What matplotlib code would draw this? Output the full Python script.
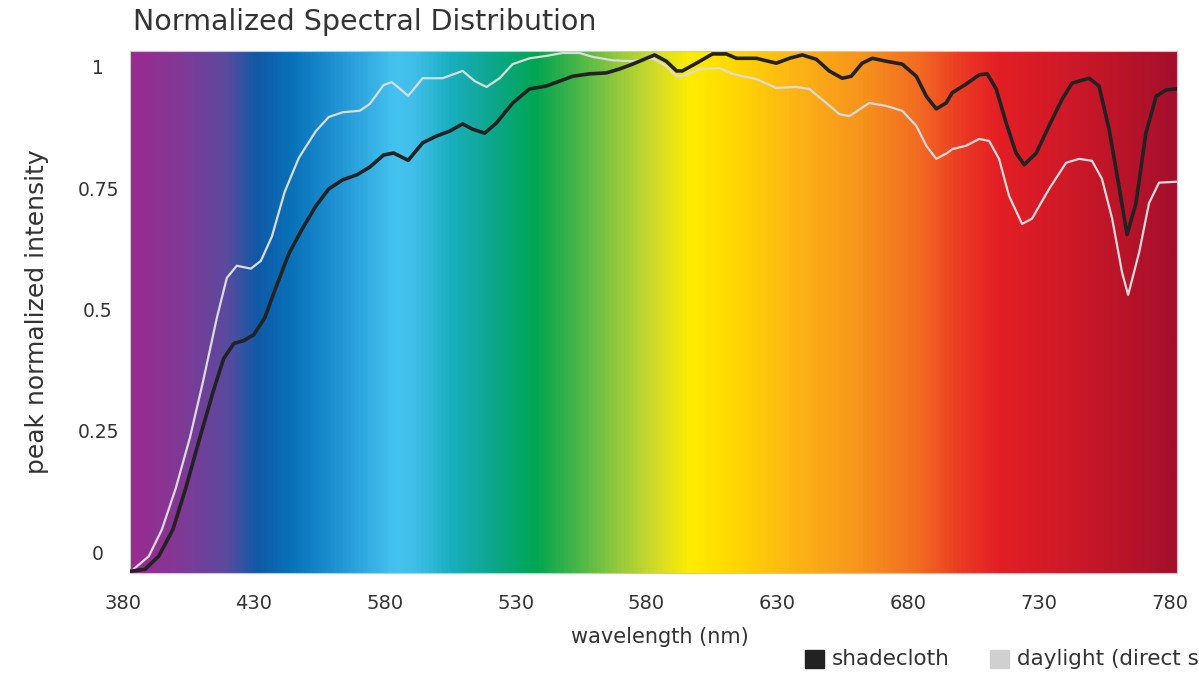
import numpy as np
import matplotlib
matplotlib.use("Agg")
import matplotlib.pyplot as plt
from matplotlib.colors import LinearSegmentedColormap
from matplotlib.patches import Rectangle
from matplotlib.transforms import ScaledTranslation

# --- data -------------------------------------------------------------
shade_wl = [380.0, 385.7, 391.0, 396.4, 401.3, 406.7, 412.0, 415.8, 419.7, 423.5,
            427.3, 431.5, 435.3, 440.7, 445.6, 451.0, 455.9, 461.3, 466.6, 471.6,
            476.9, 480.7, 486.3, 491.8, 497.1, 502.1, 507.1, 510.9, 515.5, 520.0,
            526.2, 532.6, 539.1, 544.1, 549.1, 555.5, 562.0, 567.0, 572.0, 577.3,
            580.4, 584.9, 588.8, 591.0, 596.4, 602.5, 607.8, 611.7, 619.3, 626.9,
            631.9, 636.8, 642.2, 647.1, 652.1, 655.5, 659.7, 663.6, 668.9, 675.0,
            680.4, 684.2, 688.0, 691.8, 694.1, 699.4, 704.4, 707.5, 710.9, 714.7,
            718.5, 721.6, 726.2, 731.1, 736.1, 739.9, 746.4, 750.2, 754.0, 757.8,
            760.9, 764.3, 768.1, 772.0, 775.8, 780.0]
shadecloth = [-0.039, -0.035, -0.008, 0.047, 0.132, 0.236, 0.335, 0.399, 0.430, 0.436,
              0.448, 0.483, 0.539, 0.615, 0.664, 0.713, 0.748, 0.767, 0.777, 0.793,
              0.818, 0.822, 0.807, 0.843, 0.857, 0.867, 0.882, 0.871, 0.863, 0.884,
              0.925, 0.954, 0.960, 0.970, 0.980, 0.985, 0.987, 0.995, 1.005, 1.017,
              1.024, 1.011, 0.991, 0.991, 1.007, 1.026, 1.026, 1.017, 1.017, 1.007,
              1.017, 1.024, 1.015, 0.991, 0.976, 0.980, 1.007, 1.017, 1.011, 1.005,
              0.980, 0.939, 0.913, 0.925, 0.946, 0.964, 0.983, 0.985, 0.954, 0.884,
              0.822, 0.798, 0.822, 0.878, 0.933, 0.966, 0.976, 0.960, 0.872, 0.754,
              0.654, 0.719, 0.863, 0.939, 0.952, 0.954]

day_wl = [380.0, 387.2, 392.2, 397.5, 402.9, 407.8, 413.2, 417.0, 420.8, 426.2,
          430.0, 434.2, 439.1, 444.5, 451.0, 455.9, 461.3, 467.8, 471.6, 476.9,
          480.0, 486.3, 491.8, 499.4, 507.1, 511.7, 516.2, 521.2, 526.2, 532.6,
          539.1, 545.2, 551.7, 556.7, 564.3, 572.0, 579.6, 584.9, 588.8, 591.0,
          597.5, 605.2, 610.1, 619.3, 626.9, 634.6, 639.5, 646.0, 651.0, 654.8,
          662.4, 668.9, 675.0, 680.4, 684.2, 688.0, 692.2, 694.1, 699.4, 704.4,
          708.2, 712.0, 715.8, 720.8, 724.6, 731.1, 737.6, 742.6, 747.5, 751.3,
          755.2, 759.0, 761.3, 765.5, 769.3, 773.1, 780.0]
daylight = [-0.041, -0.008, 0.047, 0.132, 0.236, 0.349, 0.483, 0.565, 0.590, 0.584,
            0.600, 0.650, 0.742, 0.812, 0.867, 0.896, 0.906, 0.909, 0.923, 0.962,
            0.968, 0.940, 0.976, 0.976, 0.991, 0.970, 0.958, 0.976, 1.005, 1.017,
            1.022, 1.028, 1.028, 1.020, 1.013, 1.011, 1.017, 1.001, 0.980, 0.980,
            0.995, 0.997, 0.985, 0.974, 0.956, 0.958, 0.954, 0.925, 0.902, 0.898,
            0.925, 0.919, 0.909, 0.878, 0.837, 0.810, 0.822, 0.830, 0.837, 0.851,
            0.847, 0.810, 0.734, 0.676, 0.687, 0.748, 0.802, 0.810, 0.806, 0.769,
            0.687, 0.576, 0.530, 0.617, 0.719, 0.761, 0.763]

x_ticks = [380, 430, 480, 530, 580, 630, 680, 730, 780]
x_tick_labels = ["380", "430", "580", "530", "580", "630", "680", "730", "780"]
y_ticks = [0, 0.25, 0.5, 0.75, 1]
y_tick_labels = ["0", "0.25", "0.5", "0.75", "1"]

# --- figure -----------------------------------------------------------
plt.rcParams["font.family"] = ["DejaVu Sans"]
text_color = "#333333"

fig = plt.figure(figsize=(11.99, 6.74), dpi=100)
ax = fig.add_axes([0.1084, 0.1499, 0.8733, 0.7744])

xlim = (380, 780)
ylim = (-0.0425, 1.032)

# visible-spectrum backdrop
stops = [
    (0.000, "#9B2A8F"), (0.048, "#7F3A96"), (0.091, "#5A4A9E"),
    (0.120, "#0E5AA7"), (0.153, "#0872B9"), (0.191, "#1D8FD0"),
    (0.253, "#45C3F0"), (0.272, "#3FBEE8"), (0.306, "#19AEBE"),
    (0.344, "#0EA78E"), (0.387, "#00A651"), (0.420, "#3BB34A"),
    (0.468, "#99CA3C"), (0.506, "#D8DE24"), (0.535, "#FFEC00"),
    (0.573, "#FFDA00"), (0.630, "#FDB714"), (0.697, "#F7941D"),
    (0.755, "#F26A22"), (0.793, "#EC3B24"), (0.831, "#E31E24"),
    (0.888, "#D11A28"), (0.946, "#BB1429"), (1.000, "#A3102D"),
]
spectrum = LinearSegmentedColormap.from_list("spectrum", stops)
grad = np.linspace(0, 1, 1024).reshape(1, -1)
ax.imshow(grad, cmap=spectrum, aspect="auto",
          extent=[xlim[0], xlim[1], ylim[0], ylim[1]], zorder=0,
          interpolation="bilinear")

ax.plot(day_wl, daylight, color="#dcdcdc", lw=1.6, zorder=2,
        solid_joinstyle="round", solid_capstyle="round")
ax.plot(shade_wl, shadecloth, color="#222222", lw=2.6, zorder=3,
        solid_joinstyle="round", solid_capstyle="round")

ax.set_xticks(x_ticks)
ax.set_xticklabels(x_tick_labels)
ax.set_yticks(y_ticks)
ax.set_yticklabels(y_tick_labels, ha="center")
ax.set_xlim(*xlim)
ax.set_ylim(*ylim)
ax.tick_params(axis="both", length=0, colors=text_color)
ax.tick_params(axis="x", pad=15, labelsize=14)
ax.tick_params(axis="y", pad=23, labelsize=13.5)

# category labels sit slightly left of their tick positions
shift = ScaledTranslation(-7 / 100, 0, fig.dpi_scale_trans)
for lbl in ax.get_xticklabels():
    lbl.set_transform(lbl.get_transform() + shift)

for sp in ax.spines.values():
    sp.set_color("#c8c8c8")
    sp.set_linewidth(0.8)

ax.set_xlabel("wavelength (nm)", fontsize=15, color=text_color)
ax.xaxis.set_label_coords(0.506, -0.104)
ax.set_ylabel("peak normalized intensity", fontsize=18, color=text_color)
ax.yaxis.set_label_coords(-0.077, 0.5)

fig.text(133 / 1199, 1 - 22 / 674, "Normalized Spectral Distribution",
         fontsize=20.5, color=text_color, ha="left", va="center")

# legend entries along the bottom edge
legend_items = [("shadecloth", "#222222", 805), ("daylight (direct sun)", "#d0d0d0", 990)]
for label, col, px in legend_items:
    fig.patches.append(Rectangle((px / 1199, 1 - 668 / 674), 19 / 1199, 18 / 674,
                                 transform=fig.transFigure, color=col))
    fig.text((px + 27) / 1199, 1 - 659 / 674, label, fontsize=15.5,
             color=text_color, ha="left", va="center")

fig.savefig("out.png", dpi=100)
